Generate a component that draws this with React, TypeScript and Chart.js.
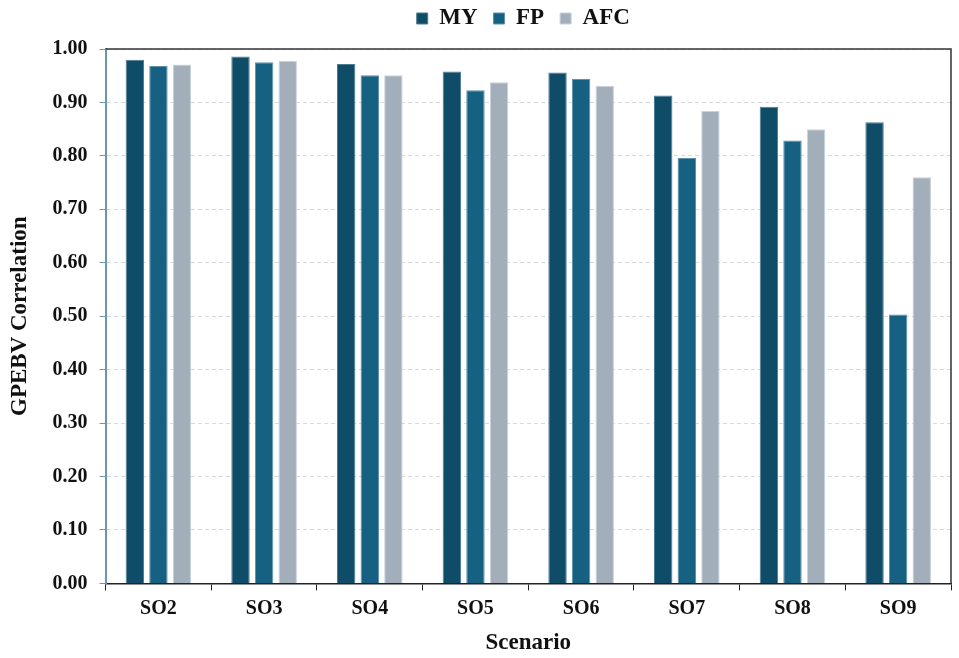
import { useEffect, useRef } from "react";
import { Chart, registerables } from "chart.js";

Chart.register(...registerables);

const SCENARIOS = ["SO2", "SO3", "SO4", "SO5", "SO6", "SO7", "SO8", "SO9"];
const MY = [0.98, 0.986, 0.972, 0.958, 0.956, 0.913, 0.892, 0.863];
const FP = [0.968, 0.975, 0.951, 0.923, 0.944, 0.796, 0.829, 0.503];
const AFC = [0.971, 0.978, 0.951, 0.938, 0.931, 0.884, 0.85, 0.76];
const Y_TICKS = [0, 0.1, 0.2, 0.3, 0.4, 0.5, 0.6, 0.7, 0.8, 0.9, 1.0];

const SERIF = "'Liberation Serif', 'Times New Roman', serif";

// top + right frame of the plot area
const framePlugin = {
  id: "frame",
  afterDraw(chart: Chart) {
    const { ctx, chartArea } = chart;
    ctx.save();
    ctx.strokeStyle = "#333333";
    ctx.lineWidth = 1.5;
    ctx.beginPath();
    ctx.moveTo(chartArea.left, chartArea.top);
    ctx.lineTo(chartArea.right, chartArea.top);
    ctx.lineTo(chartArea.right, chartArea.bottom);
    ctx.stroke();
    ctx.restore();
  },
};

// legend sits a bit higher and roughly over the plot area, not the canvas centre
const legendShift = {
  id: "legendShift",
  afterLayout(chart: any) {
    const lg = chart.legend;
    if (!lg) return;
    const dx = (chart.chartArea.left + chart.chartArea.right) / 2 - (lg.left + lg.right) / 2 - 5;
    lg.left += dx;
    lg.right += dx;
    lg.top -= 9;
    lg.bottom -= 9;
  },
};

export default function App() {
  const canvasRef = useRef<HTMLCanvasElement>(null);

  useEffect(() => {
    document.body.style.margin = "0";
    if (!canvasRef.current) return;

    const chart = new Chart(canvasRef.current, {
      type: "bar",
      data: {
        labels: SCENARIOS,
        datasets: [
          { label: "MY", data: MY, backgroundColor: "#0f4c68", borderColor: "#4d7b93" },
          { label: "FP", data: FP, backgroundColor: "#166082", borderColor: "#5d91ad" },
          { label: "AFC", data: AFC, backgroundColor: "#a2afba", borderColor: "#c9d2da" },
        ].map((d) => ({
          ...d,
          borderWidth: 1,
          categoryPercentage: 0.67,
          barPercentage: 0.78,
        })),
      },
      options: {
        animation: false,
        responsive: true,
        maintainAspectRatio: false,
        layout: { padding: { left: 6, right: 8, top: 0, bottom: 1 } },
        plugins: {
          legend: {
            position: "top",
            labels: {
              boxWidth: 11,
              boxHeight: 11,
              padding: 16,
              color: "#111",
              font: { family: SERIF, size: 23, weight: "bold" },
            },
          },
          tooltip: { enabled: false },
        },
        scales: {
          x: {
            grid: {
              offset: true,
              drawOnChartArea: false,
              drawTicks: true,
              tickLength: 7,
              tickColor: "#222",
            },
            border: { color: "#222", width: 1.5 },
            ticks: {
              color: "#111",
              padding: 6,
              font: { family: SERIF, size: 20, weight: "bold" },
            },
            title: {
              display: true,
              text: "Scenario",
              color: "#111",
              padding: { top: 3, bottom: 0 },
              font: { family: SERIF, size: 23, weight: "bold" },
            },
          },
          y: {
            min: 0,
            max: 1,
            afterBuildTicks: (axis: any) => {
              axis.ticks = Y_TICKS.map((v) => ({ value: v }));
            },
            grid: {
              color: "#d9d9d9",
              tickColor: "#6b96b0",
              tickLength: 6,
              lineWidth: 1,
            },
            border: { color: "#6b96b0", width: 2, dash: [4, 3] },
            ticks: {
              color: "#111",
              padding: 12,
              font: { family: SERIF, size: 20, weight: "bold" },
              callback: (v: any) => Number(v).toFixed(2),
            },
            title: {
              display: true,
              text: "GPEBV Correlation",
              color: "#111",
              padding: { top: 0, bottom: 7 },
              font: { family: SERIF, size: 23, weight: "bold" },
            },
          },
        },
      },
      plugins: [framePlugin, legendShift],
    });

    return () => chart.destroy();
  }, []);

  return (
    <div style={{ width: 959, height: 658, position: "relative", background: "#fff" }}>
      <canvas ref={canvasRef} />
    </div>
  );
}
